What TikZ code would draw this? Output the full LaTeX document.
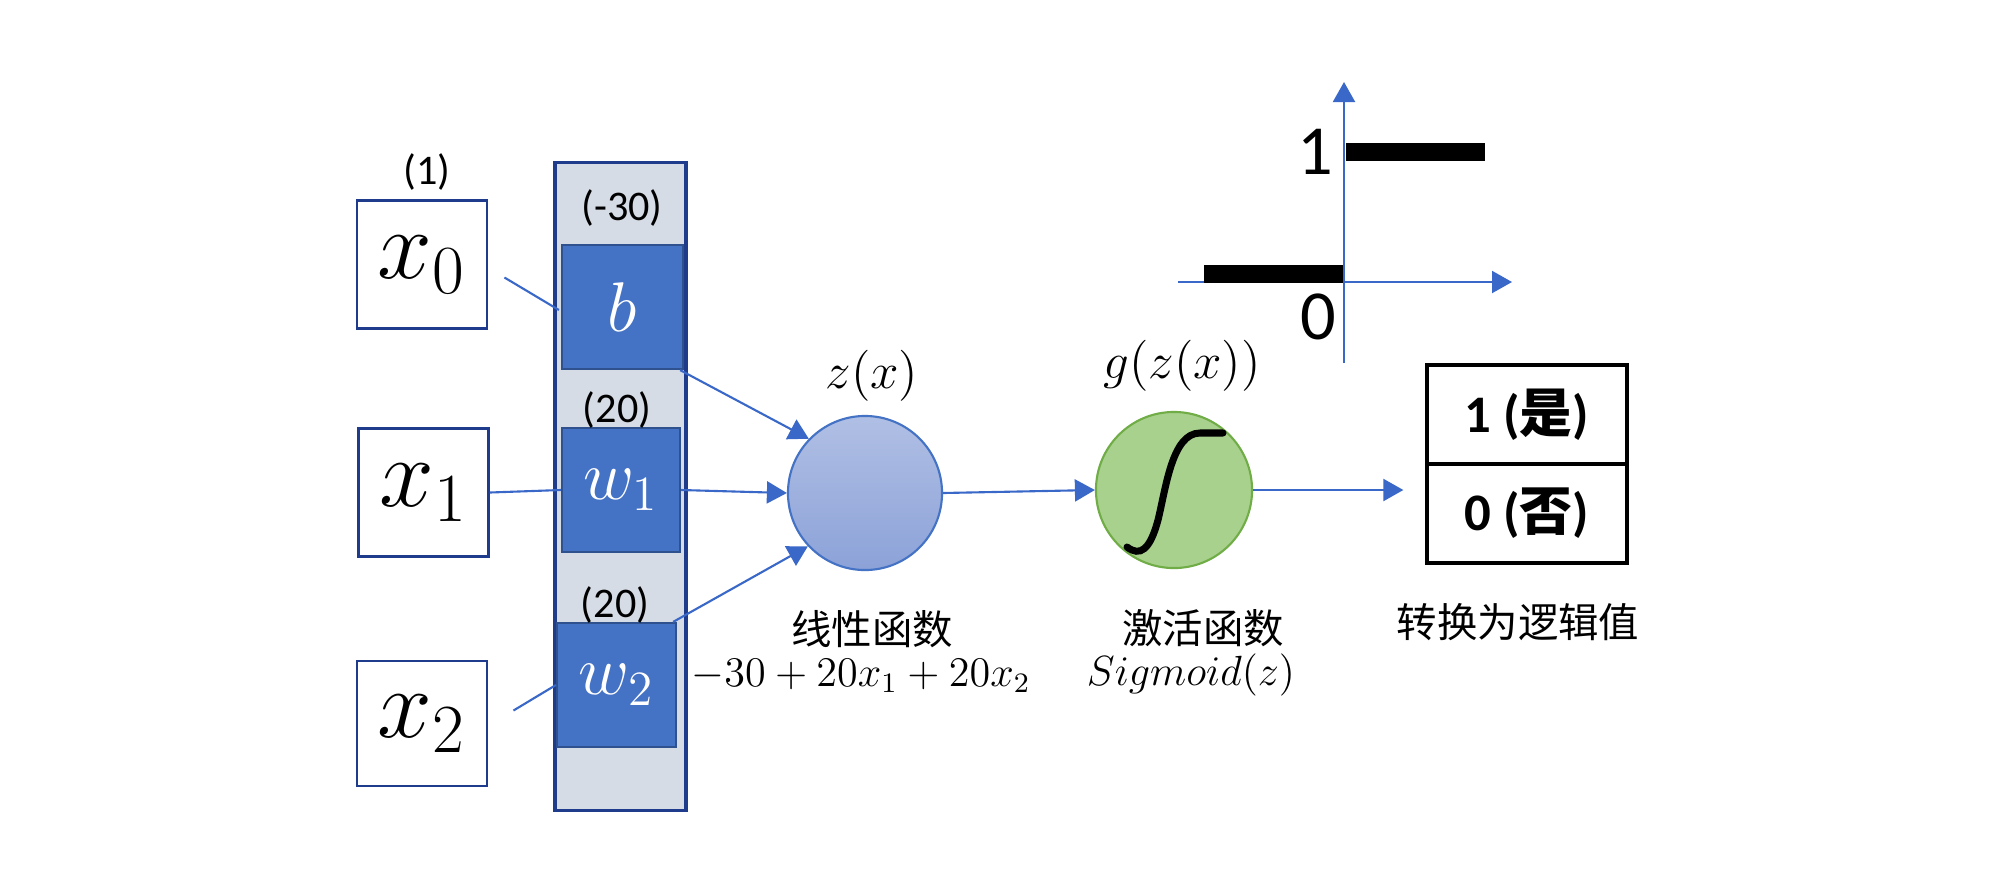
\RequirePackage{fix-cm}
\documentclass[tikz,border=0pt]{standalone}
\usepackage[no-math]{fontspec}
\setmainfont{Carlito}
\newfontfamily\cjk{Noto Sans CJK SC}
\usetikzlibrary{arrows.meta,calc}
\definecolor{boxblue}{HTML}{1F3C8C}
\definecolor{colfill}{HTML}{D6DCE5}
\definecolor{wfill}{HTML}{4472C4}
\definecolor{wborder}{HTML}{2F528F}
\definecolor{lineblue}{HTML}{3A68C8}
\definecolor{ztop}{HTML}{B0BFE4}
\definecolor{zbot}{HTML}{8CA2D8}
\definecolor{gfill}{HTML}{A9D18E}
\definecolor{gborder}{HTML}{70AD47}
\tikzset{
  inbox/.style={draw=boxblue, line width=0.8pt, fill=white, minimum width=1.30cm, minimum height=1.28cm, inner sep=0pt, font=\fontsize{28}{30}\selectfont},
  wbox/.style={draw=wborder, fill=wfill, line width=0.6pt, text=white, inner sep=0pt, minimum width=1.19cm, minimum height=1.24cm, font=\fontsize{20}{22}\selectfont},
  plbl/.style={inner sep=0pt, font=\fontsize{12}{14}\selectfont},
  mlbl/.style={inner sep=0pt, font=\fontsize{14.5}{16}\selectfont},
  cjklbl/.style={inner sep=0pt, font=\cjk\fontsize{11.5}{13}\selectfont},
  conn/.style={draw=lineblue, line width=0.6pt},
  arr/.style={conn, -{Triangle[length=0.2cm,width=0.22cm]}},
  outcell/.style={draw=black, line width=0.9pt, minimum width=2.0cm, minimum height=0.99cm, inner sep=0pt, font=\fontsize{15}{17}\selectfont\bfseries},
  axlbl/.style={inner sep=0pt, font=\fontsize{20}{22}\selectfont}
}
\begin{document}
\begin{tikzpicture}[x=0.01cm, y=-0.01cm]
\useasboundingbox[fill=white] (0,0) rectangle (2000,884);

% input boxes
\node[inbox] (x0) at (422,264.5) {$x_0$};
\node[inbox] (x1) at (423.5,492.5) {$x_1$};
\node[inbox, minimum height=1.25cm] (x2) at (422,723.5) {$x_2$};
\node[plbl] (l1) at (427,172) {(1)};

% weight column
\node[draw=boxblue, fill=colfill, line width=0.9pt, minimum width=1.31cm, minimum height=6.47cm, inner sep=0pt] (col) at (620.5,486.5) {};
\node[wbox, minimum width=1.21cm] (b) at (622.5,307) {$b$};
\node[wbox, minimum width=1.18cm] (w1) at (621,490) {$w_1$};
\node[wbox] (w2) at (616.5,685) {$w_2$};
\node[plbl] (lb) at (622,208) {(-30)};
\node[plbl] (lw1) at (617,410) {(20)};
\node[plbl] (lw2) at (615,605) {(20)};

% linear node
\node[circle, draw=wfill, line width=0.6pt, top color=ztop, bottom color=zbot, minimum size=1.54cm, inner sep=0pt] (z) at (865,493) {};
\node[mlbl] (zl) at (872,376) {$z(x)$};
\node[cjklbl] (lin) at (872,629) {线性函数};
\node[inner sep=0pt, font=\fontsize{12}{14}\selectfont] (form) at (861,676) {$-30+20x_1+20x_2$};

% activation node
\node[circle, draw=gborder, line width=0.6pt, fill=gfill, minimum size=1.56cm, inner sep=0pt] (g) at (1174,490) {};
\node[mlbl] (gl) at (1182,366) {$g(z(x))$};
\node[cjklbl] (act) at (1203,628) {激活函数};
\node[inner sep=0pt, font=\fontsize{12}{14}\selectfont] (sig) at (1191,675) {$Sigmoid(z)$};
\draw[line width=2pt, line cap=round] (1127,547) .. controls (1140,557) and (1150,550) .. (1158,520) .. controls (1166,488) and (1172,433) .. (1200,433) -- (1223,433);

% output
\node[outcell] (yes) at (1527,414.5) {1 ({\cjk 是})};
\node[outcell] (no) at (1527,513.5) {0 ({\cjk 否})};
\node[cjklbl] (conv) at (1518,622) {转换为逻辑值};

% connectors
\coordinate (x0o) at ($(x0.east)+(16,13)$);
\coordinate (x2o) at ($(x2.east)+(25,-13)$);
\draw[conn] (x0o) -- ($(b.west)+(-2,3)$);
\draw[conn] (x1.east) -- (w1.west);
\draw[conn] (x2o) -- (w2.west);
\draw[arr] ($(b.south east)+(-4,0)$) -- (z.136);
\draw[arr] (w1.east) -- (z.west);
\draw[arr] ($(w2.north east)+(-4,0)$) -- (z.223);
\draw[arr] (z.east) -- (g.west);
\draw[arr, shorten >=0.22cm] (g.east) -- (g.east -| no.west);

% step function plot
\coordinate (ybot) at (1344,363);
\coordinate (ytop) at (1344,82);
\coordinate (xl) at (1178,282);
\coordinate (xr) at (1512,282);
\draw[arr] (ybot) -- (ytop);
\draw[arr] (xl) -- (xr);
\fill[black] (1346,143) rectangle (1485,161);
\fill[black] (1204,265) rectangle (1343,283);
\node[axlbl] (a1) at (1315,152) {1};
\node[axlbl] (a0) at (1318,317) {0};
\end{tikzpicture}
\end{document}
